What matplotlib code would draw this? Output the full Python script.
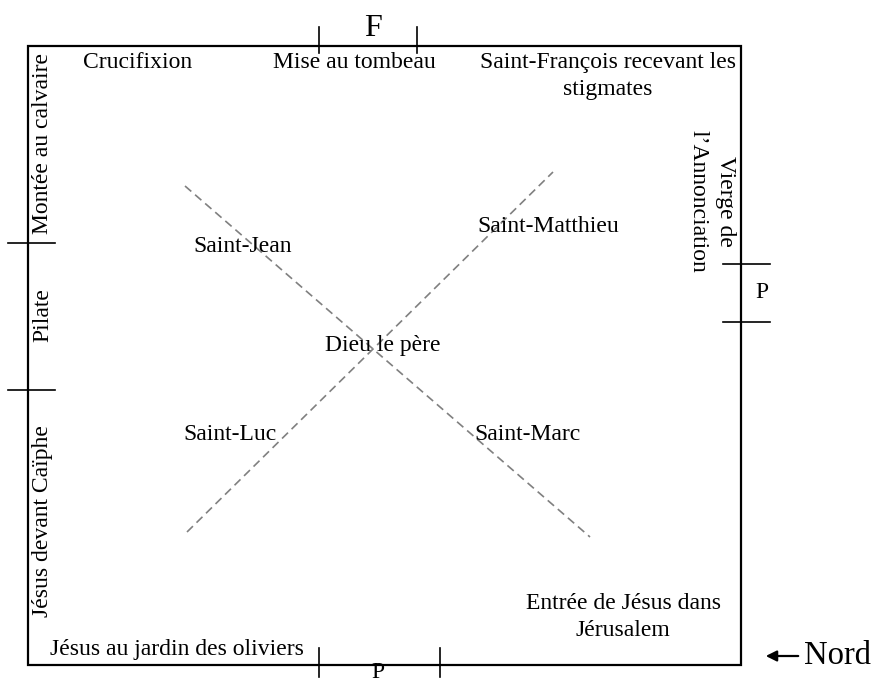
import matplotlib.pyplot as plt
from matplotlib.patches import Rectangle

# plan in pixel units (origin top-left)
W, H = 875, 684
ROOM = [28, 46, 741, 665]  # left, top, right, bottom

# scenes painted on the walls
top_labels = ["Crucifixion", "Mise au tombeau", "Saint-François recevant les\nstigmates"]
top_x = [138, 354, 608]
top_y = [62, 62, 76]

left_labels = ["Montée au calvaire", "Pilate", "Jésus devant Caïphe"]
left_y = [143, 315, 521]

right_label = "Vierge de\nl\u2019Annonciation"
right_pos = (712, 201)

bottom_labels = ["Jésus au jardin des oliviers", "Entrée de Jésus dans\nJérusalem"]
bottom_x = [177, 623]
bottom_y = [650, 617]

# ceiling
ceiling_labels = ["Saint-Jean", "Saint-Matthieu", "Dieu le père", "Saint-Luc", "Saint-Marc"]
ceiling_x = [243, 548, 383, 230, 528]
ceiling_y = [246, 227, 346, 435, 435]

diag1 = ([185, 590], [186, 537])
diag2 = ([187, 553], [532, 172])

# openings (door F, passages P)
door_top = [319, 417]
door_left = [243, 390]
door_right = [264, 322]
door_bottom = [319, 440]

fig = plt.figure(figsize=(W / 100, H / 100), dpi=100)
ax = fig.add_axes([0, 0, 1, 1])
ax.set_xlim(0, W)
ax.set_ylim(H, 0)
ax.axis("off")

plt.rcParams["font.family"] = ["Liberation Serif", "DejaVu Serif"]
fs = 17
ls_multi = 1.4

l, t, r, b = ROOM
ax.add_patch(Rectangle((l, t), r - l, b - t, fill=False, lw=1.6, ec="black"))

for x in door_top:
    ax.plot([x, x], [27, 53], color="black", lw=1.2)
for y in door_left:
    ax.plot([8, 55], [y, y], color="black", lw=1.2)
for y in door_right:
    ax.plot([723, 770], [y, y], color="black", lw=1.2)
for x in door_bottom:
    ax.plot([x, x], [648, 677], color="black", lw=1.2)

ax.text(373, 28, "F", fontsize=23, ha="center", va="center")
ax.text(762, 292, "P", fontsize=fs, ha="center", va="center")
ax.text(378, 672, "P", fontsize=fs, ha="center", va="center")

for s, x, y in zip(top_labels, top_x, top_y):
    ax.text(x, y, s, fontsize=fs, ha="center", va="center", multialignment="center", linespacing=ls_multi)
for s, y in zip(left_labels, left_y):
    ax.text(43, y, s, fontsize=fs, ha="center", va="center", rotation=90)
ax.text(right_pos[0], right_pos[1], right_label, fontsize=fs, ha="center", va="center",
        rotation=-90, multialignment="center", linespacing=ls_multi)
for s, x, y in zip(bottom_labels, bottom_x, bottom_y):
    ax.text(x, y, s, fontsize=fs, ha="center", va="center", multialignment="center", linespacing=ls_multi)

ax.plot(*diag1, color="gray", lw=1.2, ls=(0, (5, 3)))
ax.plot(*diag2, color="gray", lw=1.2, ls=(0, (5, 3)))
for s, x, y in zip(ceiling_labels, ceiling_x, ceiling_y):
    ax.text(x, y, s, fontsize=fs, ha="center", va="center")

ax.annotate("", xy=(763, 656), xytext=(801, 656),
            arrowprops=dict(arrowstyle="-|>", color="black", lw=1.6, mutation_scale=16))
ax.text(804, 656, "Nord", fontsize=23.5, ha="left", va="center")

fig.savefig("out.png", dpi=100)
